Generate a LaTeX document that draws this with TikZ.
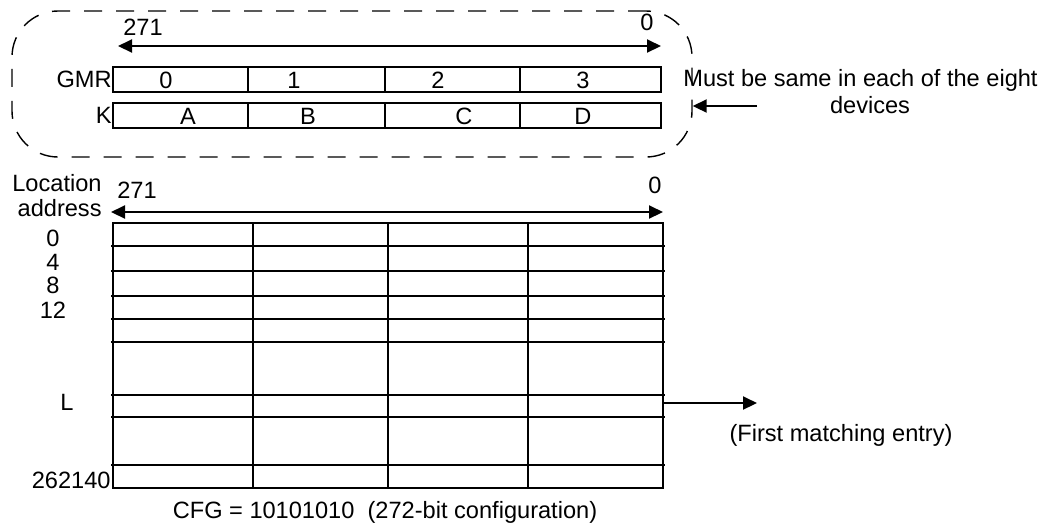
\documentclass[tikz,border=0pt]{standalone}
\usepackage{fontspec}
\setmainfont{Liberation Sans}
\usetikzlibrary{arrows.meta}
\tikzset{
  lbl/.style      ={inner sep=0pt, font=\fontsize{11.8}{12.5}\selectfont},
  cellrow/.style  ={draw, line width=1pt, inner sep=0pt,
                    minimum width=274pt, minimum height=12.5pt},
  gridline/.style ={line width=1pt},
  bitspan/.style  ={{Triangle[length=7pt,width=6.5pt]}-{Triangle[length=7pt,width=6.5pt]},
                    line width=1pt},
  hitarrow/.style ={-{Triangle[length=7pt,width=6.5pt]}, line width=1pt},
  devgroup/.style ={draw, dash pattern=on 9pt off 7pt, rounded corners=23pt,
                    line width=0.7pt, inner sep=0pt,
                    minimum width=340pt, minimum height=73pt},
}
\begin{document}
\begin{tikzpicture}[x=0.5pt, y=-0.5pt]
\useasboundingbox (0,0) rectangle (1052,527);

% global mask and key registers
\node[devgroup] (grp) at (352,84) {};
\node[lbl] (hiTop) at (143,27) {271};
\node[lbl] (loTop) at (647,22) {0};
\coordinate (spanTopL) at (118,46);
\coordinate (spanTopR) at (661,46);
\draw[bitspan] (spanTopL) -- (spanTopR);

\node[cellrow] (gmr) at (387,79.5) {};
\node[cellrow] (key) at (387,115.5) {};
\node[lbl, anchor=east] (gmrLab) at (gmr.west) {GMR};
\node[lbl, anchor=east] (keyLab) at (key.west) {K};
\foreach \x in {248,385,520} {
  \draw[gridline] (\x,67) -- (\x,92);
  \draw[gridline] (\x,103) -- (\x,128);
}
\foreach \x/\g/\k [count=\i] in {166/0/A, 294/1/B, 438/2/C, 583/3/D} {
  \node[lbl] (gmr\i) at (\x,80) {\g};
}
\foreach \x/\k [count=\i] in {188/A, 308/B, 464/C, 583/D} {
  \node[lbl] (key\i) at (\x,116) {\k};
}

% note on the right
\node[lbl, anchor=west] (must) at (683,80) {Must be same in each of the eight};
\node[lbl] (devs) at (870,105) {devices};
\coordinate (devTail) at (757,106);
\draw[hitarrow] (devTail) -- (devTail -| grp.east);

% location table
\node[lbl, align=right, anchor=east] (locaddr) at (102,196) {Location\\address};
\node[lbl] (hiLoc) at (137,190) {271};
\node[lbl] (loLoc) at (655,185) {0};
\coordinate (spanLocL) at (111,212);
\coordinate (spanLocR) at (663,212);
\draw[bitspan] (spanLocL) -- (spanLocR);

\draw[gridline] (113,223) rectangle (663,488);
\foreach \y in {246,271,296,319,342,395,417,465}
  \draw[gridline] (111,\y) -- (665,\y);
\foreach \x in {253,388,528}
  \draw[gridline] (\x,223) -- (\x,488);

\foreach \y/\a [count=\i] in {238/0, 262/4, 285/8, 310/12}
  \node[lbl] (addr\i) at (53,\y) {\a};
\node[lbl] (addrL) at (67,402) {L};
\node[lbl, anchor=east] (addrEnd) at (111,480) {262140};

% match output
\coordinate (hitL) at (663,403);
\coordinate (hitR) at (757,403);
\draw[hitarrow] (hitL) -- (hitR);
\node[lbl] (first) at (841,435) {(First matching entry)};

\node[lbl] (cfg) at (385,512) {CFG = 10101010\ \ (272-bit configuration)};

\end{tikzpicture}
\end{document}
